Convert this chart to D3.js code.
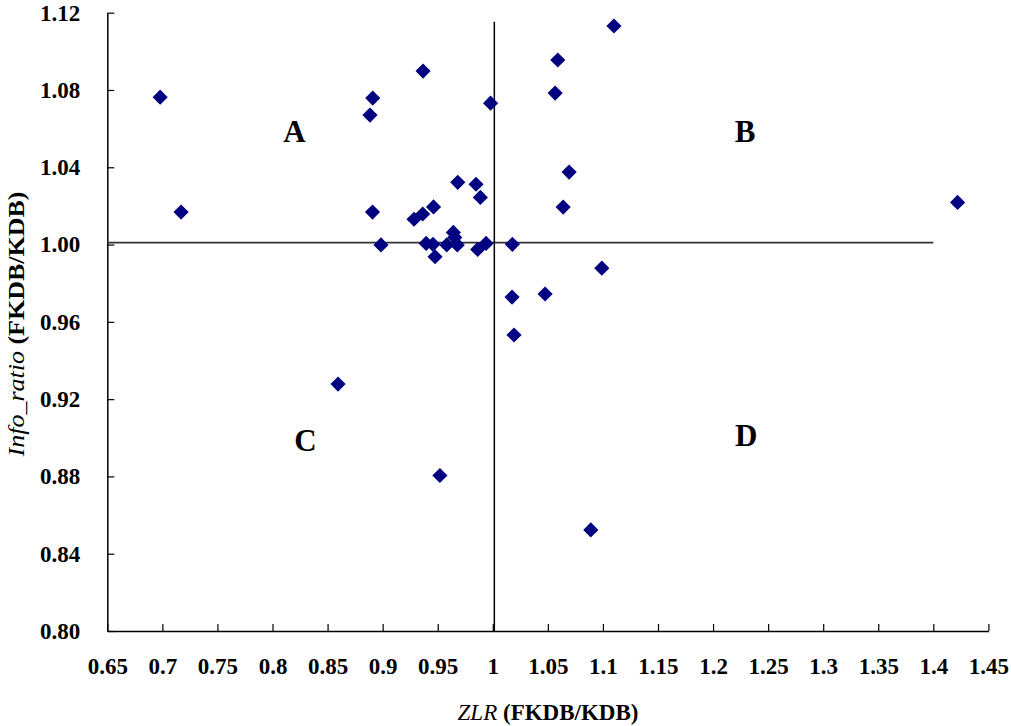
<!DOCTYPE html>
<html>
<head>
<meta charset="utf-8">
<script src="https://cdn.jsdelivr.net/npm/d3@7"></script>
<style>
  body { margin: 0; background: #fff; }
  svg text { font-family: "Liberation Serif", "Times New Roman", serif; }
</style>
</head>
<body>
<svg id="chart" width="1011" height="726"></svg>
<script>
// ZLR (x) vs Info_ratio (y)
var zlr = [0.698, 0.717, 0.8885, 0.891, 0.9367, 0.998, 1.110, 1.059, 1.0566, 1.0693,
           1.0639, 1.422, 1.0175, 1.0475, 1.099, 1.0193, 0.8595, 0.952, 1.089,
           0.8908, 0.8985, 0.9285, 0.9364, 0.9462, 0.9682, 0.9848, 0.9887, 0.9642, 0.9655,
           0.9395, 0.9457, 0.9476, 0.9582, 0.9678, 0.9863, 0.9939, 1.0178]
var infoRatio = [1.0763, 1.0168, 1.067, 1.0758, 1.0898, 1.0732, 1.1131, 1.0955, 1.0784, 1.0375,
                 1.0194, 1.0218, 0.9728, 0.9744, 0.9878, 0.9532, 0.9278, 0.8805, 0.8523,
                 1.0168, 0.9998, 1.0131, 1.0158, 1.0195, 1.0322, 1.0312, 1.0244, 1.0063, 1.0037,
                 1.0006, 1.0001, 0.9937, 0.9998, 0.9998, 0.9975, 1.0006, 1.0001]

var xTicks = [0.65, 0.7, 0.75, 0.8, 0.85, 0.9, 0.95, 1, 1.05, 1.1, 1.15, 1.2, 1.25, 1.3, 1.35, 1.4, 1.45]
var xTickLabels = ["0.65", "0.7", "0.75", "0.8", "0.85", "0.9", "0.95", "1", "1.05", "1.1", "1.15", "1.2", "1.25", "1.3", "1.35", "1.4", "1.45"]
var yTicks = [0.80, 0.84, 0.88, 0.92, 0.96, 1.00, 1.04, 1.08, 1.12]

// quadrant letters (baseline position in data units)
var quadNames = ["A", "B", "C", "D"]
var quadX = [0.82, 1.229, 0.830, 1.230]
var quadY = [1.053, 1.053, 0.893, 0.896]

// dividing lines
var hLine = {y: 1.001, x0: 0.65, x1: 1.40}
var vLine = {x: 1.0014, y0: 0.80, y1: 1.1153}

var svg = d3.select("#chart")

var x = d3.scaleLinear().domain([0.65, 1.45]).range([107.3, 988.4])
var y = d3.scaleLinear().domain([0.80, 1.12]).range([631, 12.7])

var data = zlr.map(function(d, i) { return {x: d, y: infoRatio[i]} })

var xAxis = d3.axisBottom(x)
  .tickValues(xTicks)
  .tickFormat(function(d, i) { return xTickLabels[i] })
  .tickSizeInner(-7)
  .tickSizeOuter(0)
  .tickPadding(27)

var yAxis = d3.axisLeft(y)
  .tickValues(yTicks)
  .tickFormat(d3.format(".2f"))
  .tickSizeInner(-7)
  .tickSizeOuter(0)
  .tickPadding(27)

var gx = svg.append("g")
  .attr("transform", "translate(0," + y(0.80) + ")")
  .call(xAxis)

var gy = svg.append("g")
  .attr("transform", "translate(" + x(0.65) + ",0)")
  .call(yAxis)

;[gx, gy].forEach(function(g) {
  g.select(".domain").attr("stroke", "#000").attr("stroke-width", 1.5)
  g.selectAll(".tick line").attr("stroke", "#000").attr("stroke-width", 1.2)
  g.selectAll(".tick text")
    .attr("fill", "#000")
    .style("font-family", '"Liberation Serif", "Times New Roman", serif')
    .style("font-weight", "bold")
    .style("font-size", "23px")
})

// reference lines
svg.append("line")
  .attr("x1", x(hLine.x0)).attr("x2", x(hLine.x1))
  .attr("y1", y(hLine.y)).attr("y2", y(hLine.y))
  .attr("stroke", "#333").attr("stroke-width", 1.7)

svg.append("line")
  .attr("x1", x(vLine.x)).attr("x2", x(vLine.x))
  .attr("y1", y(vLine.y0)).attr("y2", y(vLine.y1))
  .attr("stroke", "#000").attr("stroke-width", 1.5)

// points - rotated squares
var diamond = d3.symbol().type(d3.symbolSquare).size(115)
svg.append("g")
  .selectAll("path")
  .data(data)
  .enter().append("path")
    .attr("d", diamond)
    .attr("transform", function(d) { return "translate(" + x(d.x) + "," + y(d.y) + ") rotate(45)" })
    .attr("fill", "#000080")

// quadrant letters
svg.append("g")
  .selectAll("text")
  .data(quadNames)
  .enter().append("text")
    .attr("x", function(d, i) { return x(quadX[i]) })
    .attr("y", function(d, i) { return y(quadY[i]) })
    .attr("text-anchor", "middle")
    .style("font-weight", "bold")
    .style("font-size", "31px")
    .text(function(d) { return d })

// axis titles
var xTitle = svg.append("text")
  .attr("x", 548)
  .attr("y", 720)
  .attr("text-anchor", "middle")
  .style("font-size", "23px")
xTitle.append("tspan").style("font-style", "italic").text("ZLR")
xTitle.append("tspan").style("font-weight", "bold").text(" (FKDB/KDB)")

// the original is a bit stretched vertically, so the rotated title runs longer
var yTitle = svg.append("text")
  .attr("transform", "translate(24,324) rotate(-90) scale(1.13,1)")
  .attr("text-anchor", "middle")
  .style("font-size", "23px")
yTitle.append("tspan").style("font-style", "italic").text("Info_ratio")
yTitle.append("tspan").style("font-weight", "bold").text(" (FKDB/KDB)")
</script>
</body>
</html>
